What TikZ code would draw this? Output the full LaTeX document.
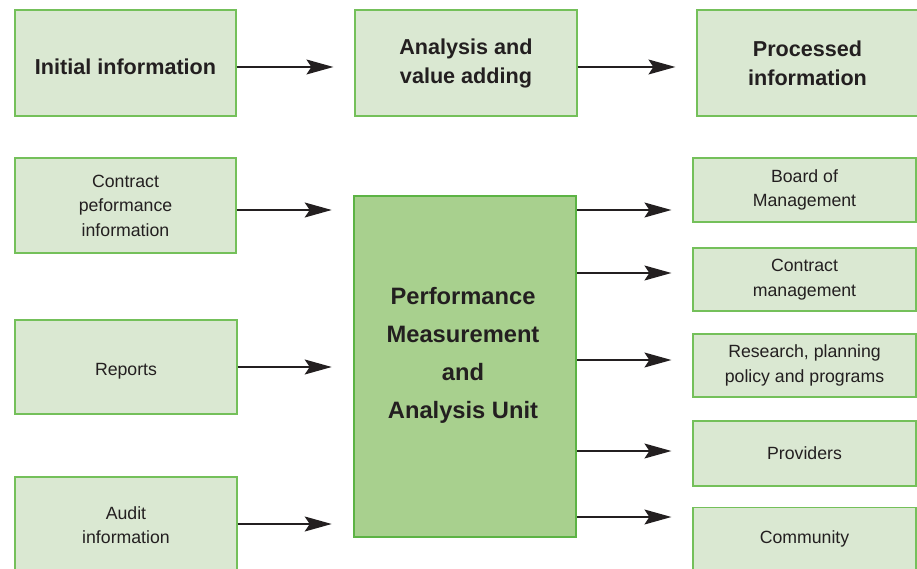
\documentclass[tikz,border=0pt]{standalone}
\usepackage{fontspec}
\setmainfont{Liberation Sans}
\usetikzlibrary{arrows.meta}
\definecolor{boxfill}{HTML}{DAE8D2}
\definecolor{boxline}{HTML}{74C05A}
\definecolor{unitfill}{HTML}{A8D08E}
\definecolor{unitline}{HTML}{5CB344}
\definecolor{ink}{HTML}{231F20}
\tikzset{
  infobox/.style={draw=boxline, fill=boxfill, line width=1.2pt, align=center, text=ink,
    font=\fontsize{17.7}{24.5}\selectfont, inner sep=0pt},
  headbox/.style={infobox, font=\fontsize{21.6}{29}\selectfont\bfseries},
  flow/.style={draw=ink, line width=1.3pt, -{Stealth[length=27pt, width=15pt, inset=5pt]}, shorten >=21pt}
}
\begin{document}
\begin{tikzpicture}[x=1pt, y=-1pt]
    \clip (0,0) rectangle (917,569);
    \useasboundingbox (0,0) rectangle (917,569);

    % headings
    \node[headbox, minimum width=221pt, minimum height=106pt, text height=23.5pt] (initial) at (125.5,63) {Initial information};
    \node[headbox, minimum width=222pt, minimum height=106pt] (analysis) at (466,63) {Analysis and\\value adding};
    \node[headbox, minimum width=221pt, minimum height=106pt] (processed) at (807.5,63) {Processed\\information};

    % inputs
    \node[infobox, minimum width=221pt, minimum height=95pt] (contract) at (125.5,205.5) {Contract\\peformance\\information};
    \node[infobox, minimum width=222pt, minimum height=94pt, text height=20.5pt] (reports) at (126,367) {Reports};
    \node[infobox, minimum width=222pt, minimum height=96pt] (audit) at (126,525) {Audit\\information};

    % unit
    \node[draw=unitline, fill=unitfill, line width=2.6pt, minimum width=222pt, minimum height=341pt] (unit) at (465,366.5) {};
    \node[align=center, text=ink, font=\fontsize{23.7}{38}\selectfont\bfseries] (unittext) at (463,355)
        {Performance\\Measurement\\and\\Analysis Unit};

    % outputs
    \node[infobox, minimum width=223pt, minimum height=64pt] (board) at (804.5,190) {Board of\\Management};
    \node[infobox, minimum width=223pt, minimum height=63pt] (cmgmt) at (804.5,279.5) {Contract\\management};
    \node[infobox, minimum width=223pt, minimum height=63pt] (research) at (804.5,365.5) {Research, planning\\policy and programs};
    \node[infobox, minimum width=223pt, minimum height=65pt] (providers) at (804.5,453.5) {Providers};
    \node[infobox, minimum width=223pt, minimum height=63pt] (community) at (804.5,539) {Community};

    % arrow points
    \coordinate (t1) at ([yshift=-4pt]analysis.west);
    \coordinate (t2) at ([yshift=-4pt]processed.west);
    \coordinate (i1) at ([yshift=-4.5pt]contract.east);
    \coordinate (i2) at (reports.east);
    \coordinate (i3) at ([yshift=1pt]audit.east);
    \coordinate (o1) at ([yshift=-20pt]board.west);
    \coordinate (o2) at ([yshift=6.5pt]cmgmt.west);
    \coordinate (o3) at ([yshift=5.5pt]research.west);
    \coordinate (o4) at ([yshift=2.5pt]providers.west);
    \coordinate (o5) at ([yshift=22pt]community.west);

    % top row
    \draw[flow] (initial.east |- t1) -- (t1);
    \draw[flow] (analysis.east |- t2) -- (t2);

    % into unit
    \draw[flow] (i1) -- (unit.west |- i1);
    \draw[flow] (i2) -- (unit.west |- i2);
    \draw[flow] (i3) -- (unit.west |- i3);

    % out of unit
    \draw[flow] (unit.east |- o1) -- (o1);
    \draw[flow] (unit.east |- o2) -- (o2);
    \draw[flow] (unit.east |- o3) -- (o3);
    \draw[flow] (unit.east |- o4) -- (o4);
    \draw[flow] (unit.east |- o5) -- (o5);
\end{tikzpicture}
\end{document}
